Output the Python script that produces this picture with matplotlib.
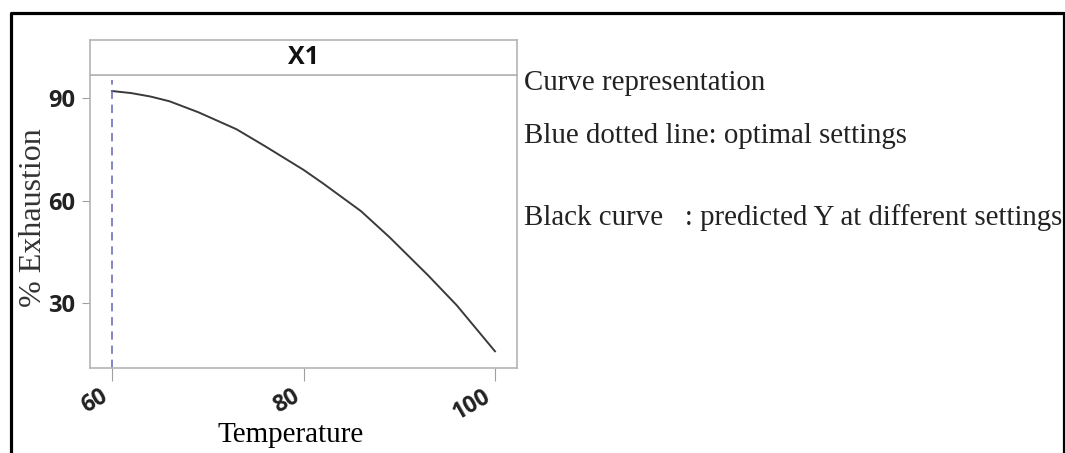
import matplotlib
matplotlib.use("Agg")
import matplotlib.pyplot as plt
from matplotlib.lines import Line2D

# 预测曲线数据（温度 vs 上染率）
temperature = [60, 62, 64, 66, 69, 73, 76, 80, 82, 86, 89, 93, 96, 100]
exhaustion = [92.1, 91.5, 90.5, 89.1, 85.9, 80.9, 75.9, 69.0, 65.1, 56.9,
              49.2, 38.1, 29.3, 15.8]
optimal_temp = 60
optimal_top = 95.3

xticks = [60, 80, 100]
yticks = [30, 60, 90]

notes = [
    "Curve representation",
    "Blue dotted line: optimal settings",
    "Black curve   : predicted Y at different settings",
]

serif = ["Liberation Serif", "DejaVu Serif"]
sans = ["Open Sans", "DejaVu Sans"]

fig = plt.figure(figsize=(10.65, 4.53), dpi=100)
fig.patch.set_facecolor("white")

W, H = 1065, 453
ax = fig.add_axes([90 / W, 1 - 368 / H, 427 / W, 293 / H])

ax.plot(temperature, exhaustion, color="#3a3a3a", linewidth=1.4)
ax.vlines(optimal_temp, 10.9, optimal_top, colors="#7070b8",
          linestyles=(0, (5, 3.5)), linewidth=1.2)

ax.set_xlim(57.7, 102.3)
ax.set_ylim(10.9, 96.8)
ax.set_xticks(xticks)
ax.set_yticks(yticks)
ax.set_xticklabels([str(t) for t in xticks], rotation=30, ha="right",
                   va="top", family=sans, fontsize=16.5, fontweight="bold",
                   color="#222222")
ax.set_yticklabels([str(t) for t in yticks], family=sans, fontsize=17,
                   fontweight="bold", color="#222222")
ax.tick_params(axis="x", length=9, width=0.8, color="#a0a0a0", pad=3)
ax.tick_params(axis="y", length=5.5, width=0.8, color="#a0a0a0", pad=5)
for s in ax.spines.values():
    s.set_color("#b4b4b4")
    s.set_linewidth(1.2)

ax.set_xlabel("Temperature", family=serif, fontsize=21)
ax.xaxis.set_label_coords(0.47, -0.2515)
ax.xaxis.label.set_va("baseline")
ax.set_ylabel("% Exhaustion", family=serif, fontsize=23, color="#333333")
ax.yaxis.set_label_coords(-0.132, 0.512)
ax.yaxis.label.set_va("center")

# 顶部标题条 X1
strip = fig.add_axes([90 / W, 1 - 75 / H, 427 / W, 35 / H])
strip.set_xticks([])
strip.set_yticks([])
for s in strip.spines.values():
    s.set_color("#b4b4b4")
    s.set_linewidth(1.2)
strip.text(0.5, 0.5, "X1", ha="center", va="center", family=sans,
           fontsize=18, fontweight="bold", color="#111111",
           transform=strip.transAxes)

# 右侧说明文字
for txt, yb in zip(notes, [90, 143, 225]):
    fig.text(524 / W, 1 - yb / H, txt, ha="left", va="baseline",
             family=serif, fontsize=20.8, color="#222222")

# 外框（底边在画面外）
x0, x1, y0 = 11 / W, 1064 / W, 1 - 13 / H
fig.add_artist(Line2D([x0, x0, x1, x1], [-0.05, y0, y0, -0.05],
                      color="black", linewidth=2.3,
                      transform=fig.transFigure))

fig.savefig("out.png", dpi=100, facecolor="white")
